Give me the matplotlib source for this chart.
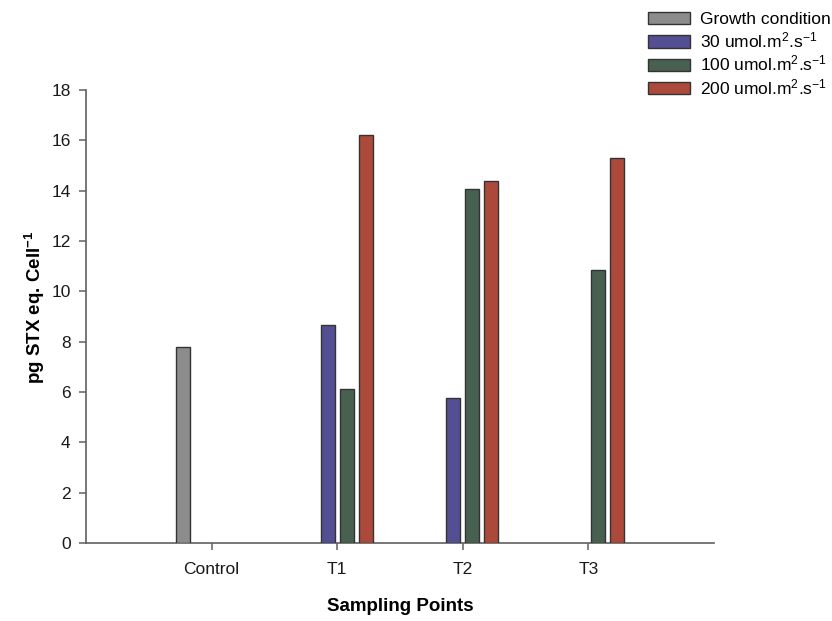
import matplotlib
matplotlib.use("Agg")
import matplotlib.pyplot as plt
import numpy as np
from matplotlib.patches import Patch

plt.rcParams['font.family'] = ['Liberation Sans', 'DejaVu Sans']
plt.rcParams['mathtext.fontset'] = 'custom'
plt.rcParams['mathtext.rm'] = 'Liberation Sans'
plt.rcParams['mathtext.bf'] = 'Liberation Sans:bold'
plt.rcParams['mathtext.default'] = 'regular'

categories = ["Control", "T1", "T2", "T3"]
series_names = ["Growth condition",
                "30 umol.m$^{2}$.s$^{-1}$",
                "100 umol.m$^{2}$.s$^{-1}$",
                "200 umol.m$^{2}$.s$^{-1}$"]
growth = [7.8, np.nan, np.nan, np.nan]
low_light = [np.nan, 8.65, 5.75, np.nan]
mid_light = [np.nan, 6.12, 14.05, 10.85]
high_light = [np.nan, 16.22, 14.38, 15.3]
series_values = [growth, low_light, mid_light, high_light]
colors = ["#8c8c8c", "#544f92", "#476050", "#ab4a3b"]
y_ticks = [0, 2, 4, 6, 8, 10, 12, 14, 16, 18]

fig = plt.figure(figsize=(8.32, 6.21), dpi=100)
ax = fig.add_axes([86/832, 1 - 543/621, 628/832, 453/621])

x = np.arange(1, len(categories) + 1)
step = 0.1514
width = 0.1116
offsets = (np.arange(4) - 1.5) * step
for vals, col, off in zip(series_values, colors, offsets):
    v = np.array(vals, dtype=float)
    mask = ~np.isnan(v)
    ax.bar(x[mask] + off, v[mask], width=width, color=col,
           edgecolor="#333333", linewidth=1.0, zorder=3)

ax.set_xlim(0, 5)
ax.set_ylim(0, 18)
ax.set_xticks(x)
ax.set_xticklabels(categories, fontsize=12.5)
ax.set_yticks(y_ticks)
ax.set_yticklabels([str(t) for t in y_ticks], fontsize=12.5)
for s in ["top", "right"]:
    ax.spines[s].set_visible(False)
for s in ["left", "bottom"]:
    ax.spines[s].set_color("#606060")
    ax.spines[s].set_linewidth(1.2)
ax.tick_params(axis="both", direction="out", length=5, width=1.1,
               color="#606060", labelcolor="#1a1a1a")
ax.tick_params(axis="x", pad=9)
ax.tick_params(axis="y", pad=6)

ax.set_xlabel("Sampling Points", fontsize=13.5, fontweight="bold", labelpad=15)
ax.set_ylabel(r"pg STX eq. Cell$^{\mathbf{-1}}$", fontsize=13.5,
              fontweight="bold")
ax.yaxis.set_label_coords(-0.062, 0.521)

handles = [Patch(facecolor=c, edgecolor="#333333", linewidth=1.0) for c in colors]
fig.legend(handles, series_names, loc="upper left",
           bbox_to_anchor=(648/832, 1 - 12/621), frameon=False,
           fontsize=12.5, handlelength=2.41, handleheight=0.7,
           handletextpad=0.57, labelspacing=0.2, borderpad=0,
           borderaxespad=0)

fig.savefig("out.png", dpi=100)
